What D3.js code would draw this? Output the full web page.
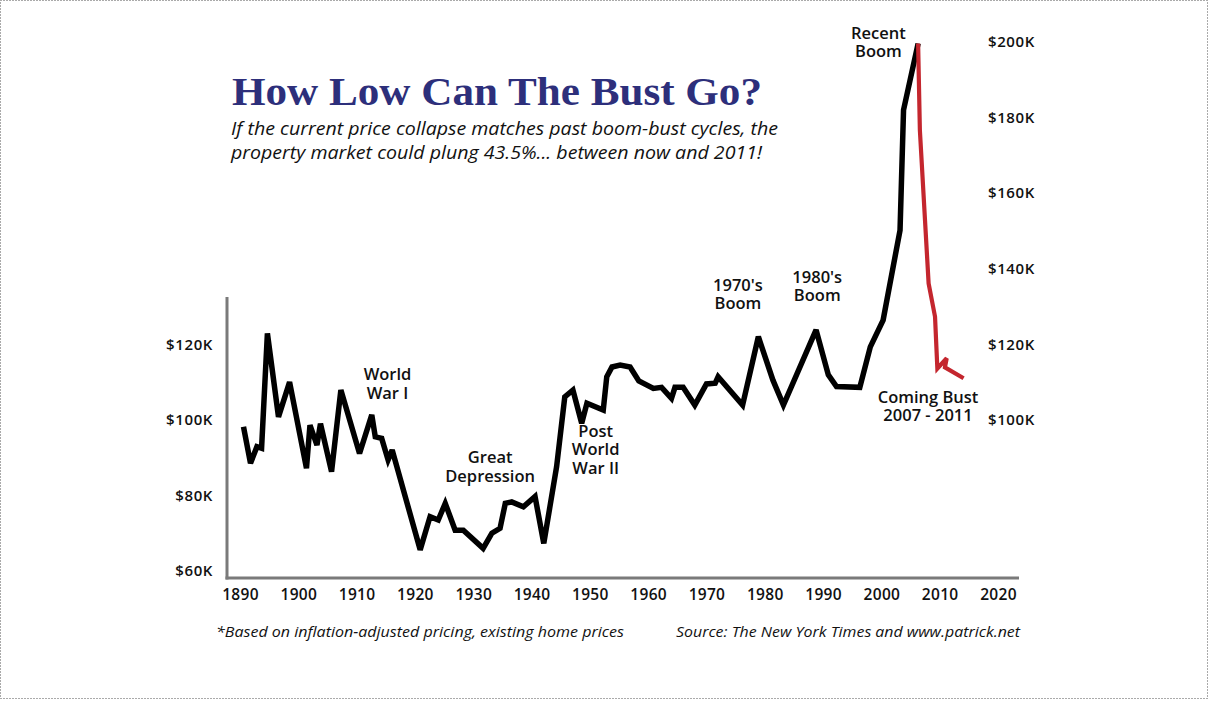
<!DOCTYPE html>
<html>
<head>
<meta charset="utf-8">
<script src="https://cdn.jsdelivr.net/npm/d3@7"></script>
<style>
  html, body { margin: 0; padding: 0; background: #fff; }
  svg { display: block; }
  .tick text { font-family: "Open Sans", "Noto Sans", sans-serif; font-weight: 600; font-size: 15px; fill: #111; letter-spacing: 0.6px; }
  .note { font-family: "Open Sans", "Noto Sans", sans-serif; font-weight: 600; font-size: 16.5px; fill: #111; }
</style>
</head>
<body>
<script>
// Inflation-adjusted existing home prices (thousands of dollars)
const years = [1890.6, 1891.8, 1892.9, 1893.7, 1894.7, 1896.6, 1898.5, 1901.4, 1902, 1903.2,
  1903.8, 1905.7, 1907.3, 1910.5, 1912.6, 1913.2, 1914.3, 1915.4, 1916.1, 1920.9,
  1922.6, 1924, 1925.2, 1926.9, 1928.3, 1931.7, 1933.2, 1934.6, 1935.5, 1936.6,
  1938.6, 1940.6, 1942.1, 1944.3, 1945.7, 1947.1, 1948.6, 1949.5, 1952.3, 1952.9,
  1953.8, 1955.2, 1956.9, 1958.4, 1960.9, 1962.3, 1964, 1964.6, 1966, 1968,
  1970, 1971.5, 1972, 1976.2, 1978.9, 1981.4, 1983.2, 1988.8, 1990.9, 1992.3,
  1996.3, 1998.1, 2000.3, 2003.2, 2003.8, 2006.3];
const prices = [98.2, 88.5, 92.9, 92.5, 122.9, 100.8, 110, 87.2, 98.6, 93.3,
  99, 86.3, 107.9, 91.1, 101.3, 95.5, 95.1, 89.4, 92, 65.6,
  74.4, 73.5, 77.9, 70.8, 70.8, 66, 70, 71.3, 77.9, 78.3,
  77, 79.7, 67.3, 87.6, 106.1, 107.9, 99.1, 104.4, 102.6, 111.4,
  114, 114.5, 114, 110.3, 108.3, 108.6, 105.7, 108.6, 108.6, 103.9,
  109.5, 109.7, 111.4, 103.9, 122, 110.5, 103.9, 123.8, 111.9, 108.8,
  108.6, 119.3, 126.4, 150.2, 182, 199.6];

// Projected bust path after the peak
const bustYears = [2006.3, 2006.6, 2008.1, 2009.2, 2009.6, 2011.2, 2010.9, 2014.1];
const bustPrices = [199.6, 176.7, 136.1, 127.3, 113.6, 116.3, 113.9, 111];

const xTicks = [1890, 1900, 1910, 1920, 1930, 1940, 1950, 1960, 1970, 1980, 1990, 2000, 2010, 2020];
const leftTicks = [60, 80, 100, 120];
const rightTicks = [100, 120, 140, 160, 180, 200];

const notes = [
  { lines: ["World", "War I"], year: 1915.3, value: 110.5 },
  { lines: ["Great", "Depression"], year: 1932.9, value: 88.5 },
  { lines: ["Post", "World", "War II"], year: 1951, value: 95.5 },
  { lines: ["1970's", "Boom"], year: 1975.4, value: 134.2 },
  { lines: ["1980's", "Boom"], year: 1989, value: 136.3 },
  { lines: ["Recent", "Boom"], year: 1999.5, value: 200.8 },
  { lines: ["Coming Bust", "2007 - 2011"], year: 2008, value: 104.5 }
];

const W = 1208, H = 702;
const x = d3.scaleLinear().domain([1890, 2020]).range([240, 998]);
const y = d3.scaleLinear().domain([60, 200]).range([571, 42]);

const svg = d3.select("body").append("svg").attr("width", W).attr("height", H);

// dotted frame
svg.append("rect")
  .attr("x", 0.5).attr("y", 0.5).attr("width", W - 1).attr("height", H - 4)
  .attr("fill", "none").attr("stroke", "#555").attr("stroke-width", 1)
  .attr("stroke-dasharray", "1,2");

// axis frame lines
const axisY = 578, axisX = 227;
svg.append("line").attr("x1", axisX).attr("x2", axisX).attr("y1", 297).attr("y2", axisY + 1.5)
  .attr("stroke", "#7a7a7a").attr("stroke-width", 3);
svg.append("line").attr("x1", axisX - 1.5).attr("x2", 1019).attr("y1", axisY).attr("y2", axisY)
  .attr("stroke", "#7a7a7a").attr("stroke-width", 3);

// x tick labels
const xAxis = svg.append("g").attr("transform", `translate(0,${axisY + 5})`)
  .call(d3.axisBottom(x).tickValues(xTicks).tickFormat(d3.format("d")).tickSize(0).tickPadding(6));
xAxis.select(".domain").remove();
xAxis.selectAll(".tick text").style("font-size", "15.5px").style("letter-spacing", "0.3px");

const money = d => `$${d}K`;
const yLeft = svg.append("g").attr("transform", "translate(213,0)")
  .call(d3.axisLeft(y).tickValues(leftTicks).tickFormat(money).tickSize(0).tickPadding(0));
yLeft.select(".domain").remove();

const yRight = svg.append("g").attr("transform", "translate(988,0)")
  .call(d3.axisRight(y).tickValues(rightTicks).tickFormat(money).tickSize(0).tickPadding(0));
yRight.select(".domain").remove();

// price history
const line = d3.line().x(d => x(d[0])).y(d => y(d[1]));
svg.append("path")
  .datum(years.map((t, i) => [t, prices[i]]))
  .attr("d", line)
  .attr("fill", "none").attr("stroke", "#000").attr("stroke-width", 5.5)
  .attr("stroke-linejoin", "miter").attr("stroke-miterlimit", 3);

// projected bust
svg.append("path")
  .datum(bustYears.map((t, i) => [t, bustPrices[i]]))
  .attr("d", line)
  .attr("fill", "none").attr("stroke", "#c4262e").attr("stroke-width", 4.2)
  .attr("stroke-linejoin", "miter").attr("stroke-miterlimit", 3);

// event annotations
notes.forEach(n => {
  const t = svg.append("text").attr("class", "note").attr("text-anchor", "middle")
    .attr("x", x(n.year)).attr("y", y(n.value));
  n.lines.forEach((s, i) => t.append("tspan").attr("x", x(n.year)).attr("dy", i === 0 ? 0 : 18.5).text(s));
});

// title and subtitle
svg.append("text").attr("x", 232).attr("y", 105)
  .attr("textLength", 530).attr("lengthAdjust", "spacingAndGlyphs")
  .style("font-family", "'Liberation Serif', 'Times New Roman', serif").style("font-weight", "bold")
  .style("font-size", "41px").style("fill", "#2d2f7b")
  .text("How Low Can The Bust Go?");
const subFont = t => t.style("font-family", "'Open Sans', 'Noto Sans', sans-serif")
  .style("font-style", "italic").style("font-size", "18px").style("fill", "#111");
subFont(svg.append("text").attr("x", 231).attr("y", 135)
  .attr("textLength", 547).attr("lengthAdjust", "spacingAndGlyphs")
  .text("If the current price collapse matches past boom-bust cycles, the"));
subFont(svg.append("text").attr("x", 231).attr("y", 159)
  .attr("textLength", 531).attr("lengthAdjust", "spacingAndGlyphs")
  .text("property market could plung 43.5%... between now and 2011!"));

// footnotes
const footFont = t => t.style("font-family", "'Open Sans', 'Noto Sans', sans-serif")
  .style("font-style", "italic").style("font-size", "14px").style("fill", "#111");
footFont(svg.append("text").attr("x", 216).attr("y", 637)
  .attr("textLength", 408).attr("lengthAdjust", "spacingAndGlyphs")
  .text("*Based on inflation-adjusted pricing, existing home prices"));
footFont(svg.append("text").attr("x", 676).attr("y", 637)
  .attr("textLength", 344).attr("lengthAdjust", "spacingAndGlyphs")
  .text("Source: The New York Times and www.patrick.net"));
</script>
</body>
</html>
